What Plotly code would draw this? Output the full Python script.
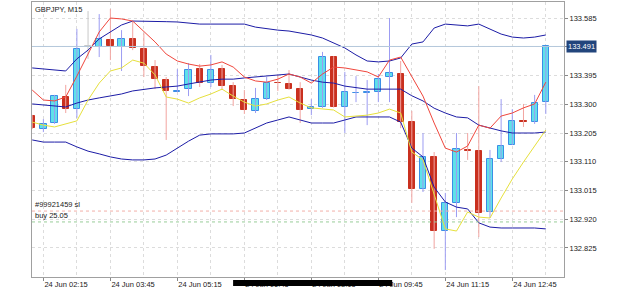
import plotly.graph_objects as go
import pandas as pd

# ---------------- data ----------------
times = pd.date_range("2020-06-24 02:00", periods=47, freq="15min")

opens = [133.261, 133.218, 133.238, 133.324, 133.284, 133.492, 133.489, 133.512, 133.489, 133.516,
         133.483, 133.423, 133.380, 133.342, 133.350, 133.416, 133.370, 133.416, 133.360, 133.314,
         133.278, 133.317, 133.371, 133.367, 133.350, 133.284, 133.291, 133.456, 133.291, 133.336,
         133.336, 133.340, 133.390, 133.400, 133.241, 133.020, 133.126, 132.881, 132.974, 133.150,
         133.145, 132.944, 133.119, 133.165, 133.245, 133.241, 133.307]
highs = [133.265, 133.251, 133.331, 133.364, 133.549, 133.608, 133.598, 133.615, 133.545, 133.572,
         133.535, 133.446, 133.390, 133.416, 133.436, 133.433, 133.463, 133.430, 133.373, 133.347,
         133.354, 133.390, 133.397, 133.413, 133.373, 133.317, 133.473, 133.459, 133.407, 133.393,
         133.380, 133.400, 133.585, 133.443, 133.278, 133.205, 133.142, 133.007, 133.205, 133.205,
         133.360, 133.149, 133.317, 133.284, 133.301, 133.331, 133.491]
lows = [133.218, 133.208, 133.235, 133.271, 133.255, 133.450, 133.456, 133.446, 133.410, 133.479,
        133.390, 133.350, 133.182, 133.340, 133.327, 133.357, 133.357, 133.347, 133.294, 133.268,
        133.271, 133.314, 133.344, 133.348, 133.238, 133.264, 133.288, 133.289, 133.205, 133.307,
        133.231, 133.307, 133.307, 133.221, 132.974, 133.010, 132.822, 132.752, 132.927, 133.116,
        132.861, 132.924, 133.109, 133.165, 133.225, 133.235, 133.268]
closes = [133.221, 133.235, 133.327, 133.284, 133.483, 133.492, 133.516, 133.492, 133.516, 133.486,
          133.426, 133.383, 133.344, 133.345, 133.413, 133.370, 133.413, 133.360, 133.317, 133.281,
          133.317, 133.370, 133.370, 133.350, 133.281, 133.291, 133.456, 133.291, 133.340, 133.337,
          133.339, 133.383, 133.403, 133.241, 133.020, 133.126, 132.881, 132.974, 133.152, 133.147,
          132.941, 133.119, 133.162, 133.245, 133.241, 133.304, 133.491]

bb_upper = [133.420, 133.416, 133.413, 133.410, 133.450, 133.479, 133.516, 133.539, 133.562, 133.575,
            133.575, 133.575, 133.573, 133.572, 133.568, 133.565, 133.565, 133.565, 133.565, 133.565,
            133.555, 133.549, 133.545, 133.542, 133.535, 133.529, 133.519, 133.502, 133.486, 133.463,
            133.443, 133.440, 133.443, 133.453, 133.499, 133.506, 133.552, 133.565, 133.562, 133.559,
            133.565, 133.549, 133.532, 133.522, 133.519, 133.522, 133.529]
bb_mid = [133.301, 133.297, 133.294, 133.291, 133.304, 133.314, 133.321, 133.327, 133.334, 133.344,
          133.350, 133.354, 133.357, 133.360, 133.367, 133.373, 133.380, 133.383, 133.383, 133.387,
          133.390, 133.393, 133.397, 133.400, 133.390, 133.380, 133.373, 133.370, 133.360, 133.354,
          133.350, 133.350, 133.350, 133.350, 133.328, 133.311, 133.287, 133.271, 133.258, 133.255,
          133.231, 133.221, 133.212, 133.205, 133.205, 133.205, 133.208]
bb_lower = [133.182, 133.175, 133.175, 133.175, 133.159, 133.145, 133.136, 133.126, 133.119, 133.116,
            133.116, 133.119, 133.132, 133.155, 133.178, 133.198, 133.202, 133.202, 133.202, 133.205,
            133.221, 133.238, 133.248, 133.258, 133.248, 133.238, 133.238, 133.238, 133.248, 133.258,
            133.258, 133.258, 133.258, 133.241, 133.155, 133.126, 133.026, 132.977, 132.960, 132.954,
            132.908, 132.894, 132.891, 132.891, 132.891, 132.891, 132.888]
red_line = [133.347, 133.314, 133.311, 133.324, 133.393, 133.466, 133.539, 133.585, 133.582, 133.575,
            133.542, 133.506, 133.466, 133.443, 133.433, 133.426, 133.430, 133.440, 133.423, 133.390,
            133.377, 133.373, 133.383, 133.400, 133.390, 133.370, 133.400, 133.423, 133.420, 133.413,
            133.407, 133.390, 133.446, 133.456, 133.390, 133.327, 133.238, 133.155, 133.142, 133.162,
            133.231, 133.221, 133.261, 133.271, 133.288, 133.301, 133.373]
yellow_line = [133.241, 133.231, 133.225, 133.235, 133.245, 133.314, 133.370, 133.410, 133.420, 133.446,
               133.436, 133.397, 133.324, 133.317, 133.304, 133.321, 133.334, 133.350, 133.327, 133.307,
               133.294, 133.301, 133.314, 133.324, 133.304, 133.288, 133.284, 133.281, 133.258, 133.261,
               133.264, 133.271, 133.284, 133.271, 133.142, 133.116, 133.000, 132.888, 132.881, 132.944,
               132.927, 132.924, 132.990, 133.053, 133.109, 133.162, 133.215]

price_now = 133.491
sl_price = 132.947
buy_price = 132.911
sl_text = "#99921459 sl"
buy_text = "buy 25.05"
title_text = "GBPJPY, M15"
y_ticks = [132.825, 132.920, 133.015, 133.110, 133.205, 133.300, 133.395, 133.490, 133.585]
y_ticktext = ["132.825", "132.920", "133.015", "133.110", "133.205", "133.300", "133.395", "", "133.585"]
x_label_times = list(times[1::6])

# ---------------- styling ----------------
UP_FILL, UP_LINE, UP_WICK = "#5fe1e9", "#3a8ee6", "#9c9cf2"
DN_FILL, DN_LINE, DN_WICK = "#c9301f", "#c9301f", "#f2a4a0"
DJ_COLOR = "#c8c8c8"
FONT = "Liberation Sans, Arial, sans-serif"
FS = 7.5
bar_ms = 15 * 60 * 1000

fig = go.Figure()

# wicks
groups = {"up": ([], [], UP_WICK), "dn": ([], [], DN_WICK), "dj": ([], [], DJ_COLOR)}
fills, lines_c, bases, heights = [], [], [], []
for t, o, h, l, c in zip(times, opens, highs, lows, closes):
    key = "up" if c > o else ("dn" if c < o else "dj")
    gx, gy, _ = groups[key]
    gx += [t, t, None]
    gy += [l, h, None]
    if key == "up":
        fills.append(UP_FILL); lines_c.append(UP_LINE)
    elif key == "dn":
        fills.append(DN_FILL); lines_c.append(DN_LINE)
    else:
        fills.append(DJ_COLOR); lines_c.append(DJ_COLOR)
    bases.append(min(o, c))
    heights.append(max(abs(c - o), 0.0008))

for key, (gx, gy, col) in groups.items():
    fig.add_trace(go.Scatter(x=gx, y=gy, mode="lines", line=dict(color=col, width=1),
                             hoverinfo="skip", showlegend=False))

fig.add_trace(go.Bar(x=times, y=heights, base=bases, width=0.56 * bar_ms,
                     marker=dict(color=fills, line=dict(color=lines_c, width=1)),
                     showlegend=False, hoverinfo="skip"))

# indicators
for vals, col in [(bb_upper, "#1c1ca6"), (bb_mid, "#1c1ca6"), (bb_lower, "#1c1ca6"),
                  (red_line, "#f0463c"), (yellow_line, "#e6e03c")]:
    fig.add_trace(go.Scatter(x=times, y=vals, mode="lines", line=dict(color=col, width=1),
                             hoverinfo="skip", showlegend=False))

x0 = times[0]
x_range = [x0 - pd.Timedelta(minutes=15 * 0.02), x0 + pd.Timedelta(minutes=15 * 47.63)]

fig.update_layout(
    width=625, height=289,
    margin=dict(l=32, r=61, t=2, b=12),
    paper_bgcolor="white", plot_bgcolor="white",
    font=dict(family=FONT, size=FS, color="#1a1a1a"),
    showlegend=False, bargap=0,
    xaxis=dict(
        type="date", range=x_range, automargin=False,
        tickmode="array", tickvals=x_label_times,
        ticktext=[t.strftime("%d %b %H:%M").lstrip("0") for t in x_label_times],
        ticklabelposition="outside right",
        ticks="outside", ticklen=3, tickcolor="#888888",
        showline=True, linecolor="#a0a0a0", linewidth=1, mirror=True,
        showgrid=True, gridcolor="#dcdcdc", griddash="3px,3px", gridwidth=1,
        minor=dict(tickmode="array", tickvals=list(times[4::6]), showgrid=True,
                   gridcolor="#dcdcdc", griddash="3px,3px", ticks=""),
        zeroline=False, tickfont=dict(size=FS, color="#1a1a1a"),
    ),
    yaxis=dict(
        side="right", range=[132.729, 133.638], automargin=False,
        tickmode="array", tickvals=y_ticks, ticktext=y_ticktext,
        ticks="outside", ticklen=3, tickcolor="#888888", ticklabelstandoff=0,
        showline=True, linecolor="#a0a0a0", linewidth=1, mirror=True,
        showgrid=True, gridcolor="#dcdcdc", griddash="3px,3px", gridwidth=1,
        zeroline=False, tickfont=dict(size=FS, color="#1a1a1a"),
    ),
)

# price line, SL and order lines
fig.add_hline(y=price_now, line=dict(color="#b4c8dc", width=1))
fig.add_hline(y=sl_price, line=dict(color="#f2b0a8", width=1, dash="3px,3px"))
fig.add_hline(y=buy_price, line=dict(color="#98cc98", width=1, dash="3px,3px"))

fig.add_annotation(xref="paper", yref="paper", x=0, y=1, xanchor="left", yanchor="top",
                   xshift=1, yshift=-1, text=title_text, showarrow=False,
                   font=dict(size=FS, color="#1a1a1a"))
fig.add_annotation(xref="paper", yref="y", x=0, y=sl_price, xanchor="left", yanchor="bottom",
                   xshift=1, yshift=0, text=sl_text, showarrow=False,
                   font=dict(size=FS, color="#1a1a1a"))
fig.add_annotation(xref="paper", yref="y", x=0, y=buy_price, xanchor="left", yanchor="bottom",
                   xshift=1, yshift=0, text=buy_text, showarrow=False,
                   font=dict(size=FS, color="#1a1a1a"))
fig.add_annotation(xref="paper", yref="y", x=1, y=price_now, xanchor="left", yanchor="middle",
                   xshift=2, text=f"{price_now:.3f}", showarrow=False, bgcolor="#22457c",
                   borderpad=1, font=dict(size=FS, color="white"))

# black redaction stroke over the bottom labels (as in the reference picture)
fig.add_shape(type="line", xref="paper", yref="paper", x0=0.378, x1=0.677, y0=-0.022, y1=-0.022,
              line=dict(color="black", width=6), layer="above")

fig.write_html("out.html")
